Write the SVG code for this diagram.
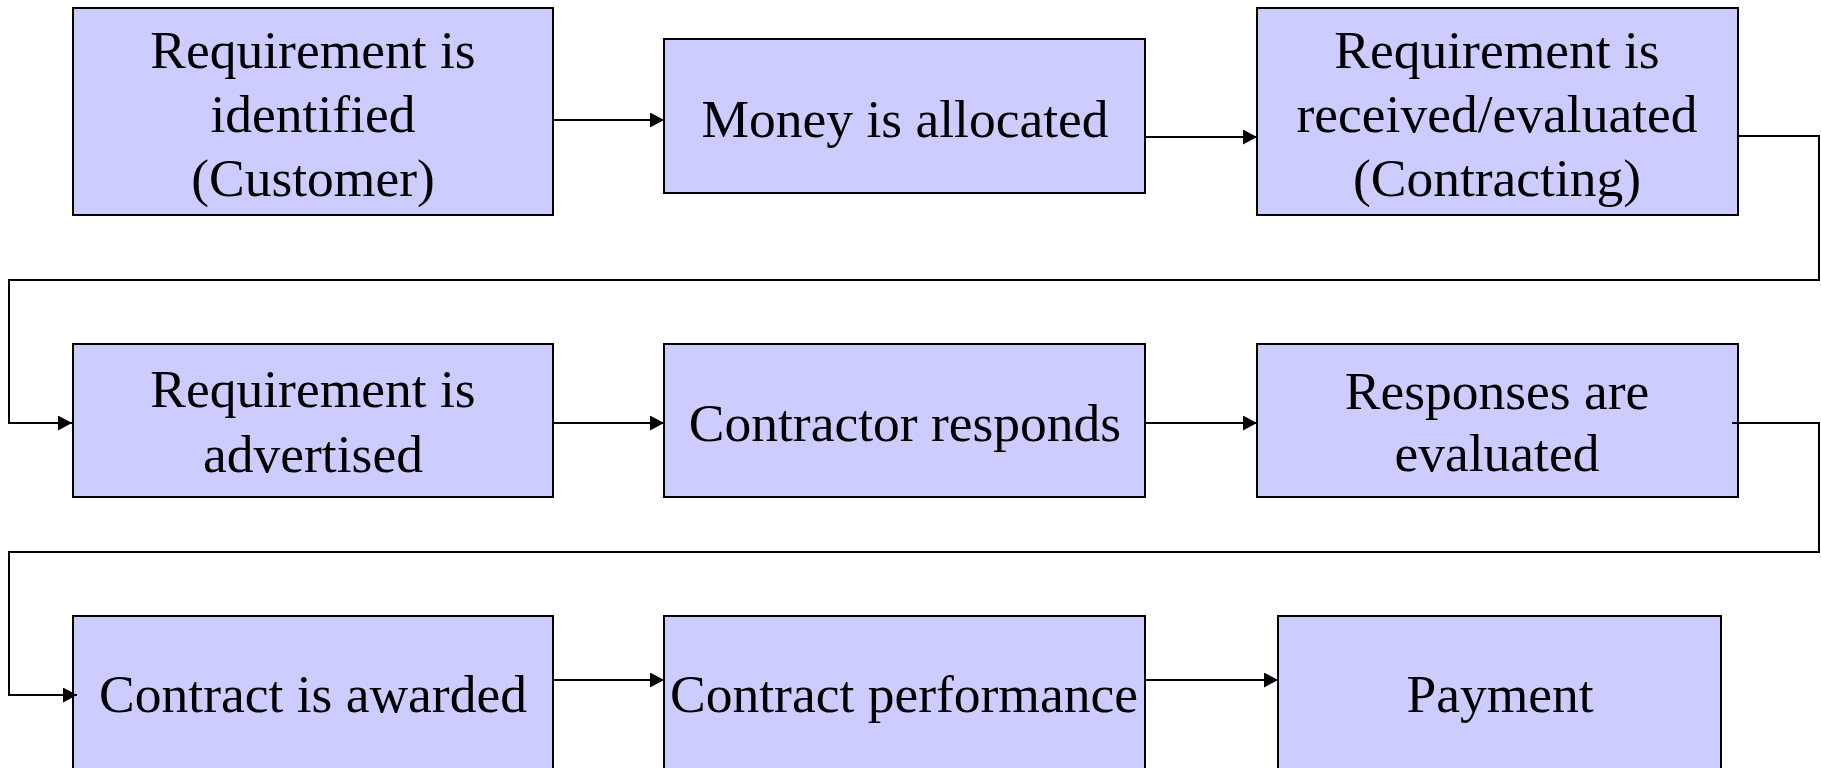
<svg xmlns="http://www.w3.org/2000/svg" width="1821" height="768" viewBox="0 0 1821 768">
<style>
.box{fill:#CCCCFF;stroke:#000;stroke-width:2}
.lbl{font-family:"Liberation Serif","Times New Roman",serif;font-size:53.5px;fill:#000;text-anchor:middle}
.conn{fill:none;stroke:#000;stroke-width:2}
</style>
<defs>
<marker id="arr" markerUnits="userSpaceOnUse" markerWidth="16" markerHeight="16" refX="14" refY="7.5" orient="auto">
<path d="M0,0 L14,7.5 L0,15 z" fill="#000"/>
</marker>
</defs>
<rect width="1821" height="768" fill="#fff"/>
<g id="n1">
<rect class="box" x="73" y="8" width="480" height="207"/>
<text class="lbl" x="313" y="68">Requirement is</text>
<text class="lbl" x="313" y="132">identified</text>
<text class="lbl" x="313" y="196">(Customer)</text>
</g>
<g id="n2">
<rect class="box" x="664" y="39" width="481" height="154"/>
<text class="lbl" x="905" y="137">Money is allocated</text>
</g>
<g id="n3">
<rect class="box" x="1257" y="8" width="481" height="207"/>
<text class="lbl" x="1497" y="68">Requirement is</text>
<text class="lbl" x="1497" y="132">received/evaluated</text>
<text class="lbl" x="1497" y="196">(Contracting)</text>
</g>
<g id="n4">
<rect class="box" x="73" y="344" width="480" height="153"/>
<text class="lbl" x="313" y="407">Requirement is</text>
<text class="lbl" x="313" y="472">advertised</text>
</g>
<g id="n5">
<rect class="box" x="664" y="344" width="481" height="153"/>
<text class="lbl" x="905" y="441">Contractor responds</text>
</g>
<g id="n6">
<rect class="box" x="1257" y="344" width="481" height="153"/>
<text class="lbl" x="1497" y="409">Responses are</text>
<text class="lbl" x="1497" y="471">evaluated</text>
</g>
<g id="n7">
<rect class="box" x="73" y="616" width="480" height="180"/>
<text class="lbl" x="313" y="712">Contract is awarded</text>
</g>
<g id="n8">
<rect class="box" x="664" y="616" width="481" height="180"/>
<text class="lbl" x="904" y="712">Contract performance</text>
</g>
<g id="n9">
<rect class="box" x="1278" y="616" width="443" height="180"/>
<text class="lbl" x="1500" y="712">Payment</text>
</g>
<g id="connectors">
<path class="conn" d="M554,120 H664" marker-end="url(#arr)"/>
<path class="conn" d="M1146,137 H1257" marker-end="url(#arr)"/>
<path class="conn" d="M1739,136 H1819 V280 H9 V423 H72" marker-end="url(#arr)"/>
<path class="conn" d="M554,423 H664" marker-end="url(#arr)"/>
<path class="conn" d="M1146,423 H1257" marker-end="url(#arr)"/>
<path class="conn" d="M1732,423 H1819 V552 H9 V695 H77" marker-end="url(#arr)"/>
<path class="conn" d="M554,680 H664" marker-end="url(#arr)"/>
<path class="conn" d="M1146,680 H1278" marker-end="url(#arr)"/>
</g>
</svg>
